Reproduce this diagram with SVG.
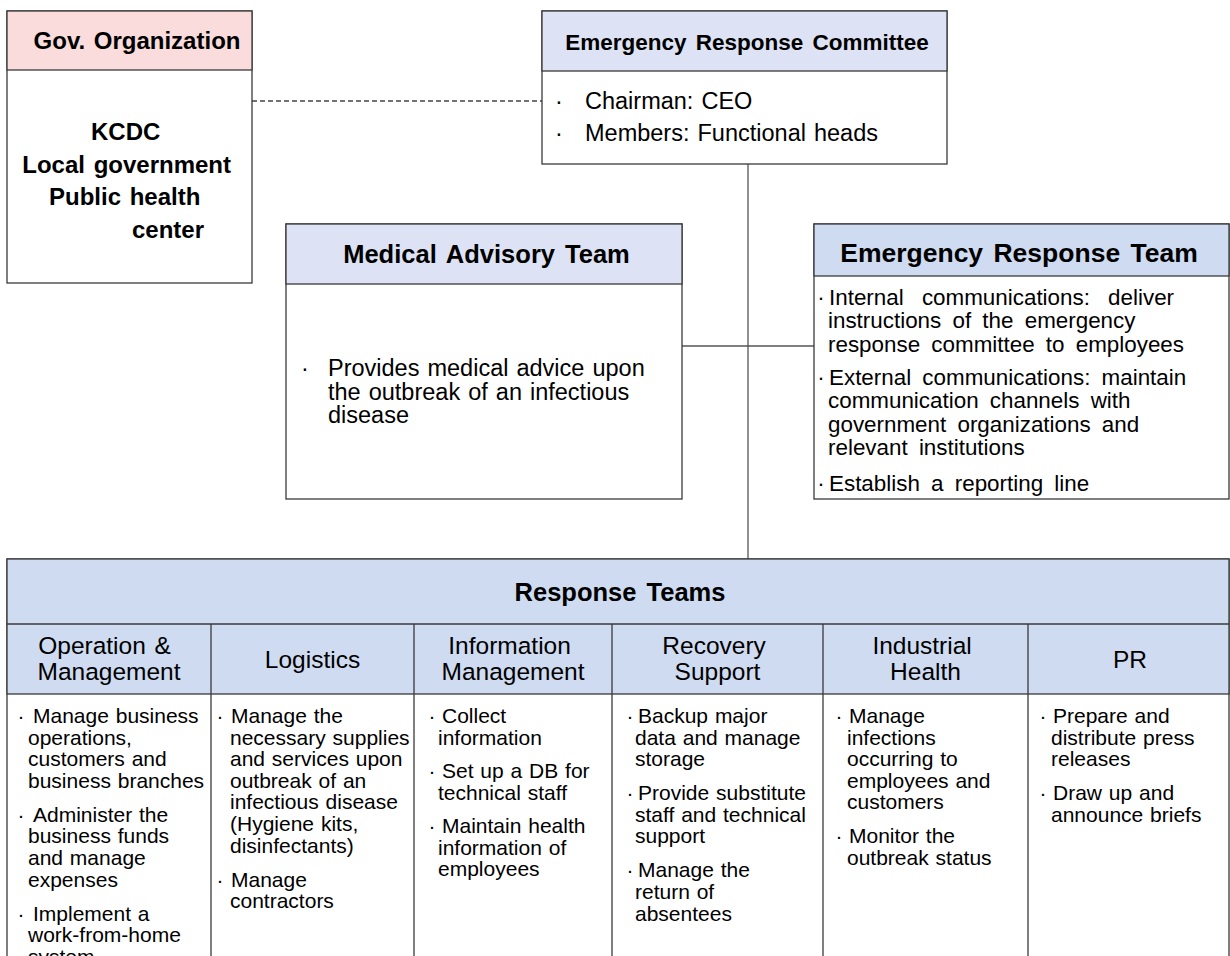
<svg xmlns="http://www.w3.org/2000/svg" width="1230" height="956" viewBox="0 0 1230 956">
  <style>
    text { font-family: "Liberation Sans", Arial, sans-serif; fill: #000; }
    .box { fill: #fff; stroke: #3a3a3a; stroke-width: 1.3; }
    .hdr-pink { fill: #fadcdc; stroke: #3a3a3a; stroke-width: 1.3; }
    .hdr-lav { fill: #dde3f4; stroke: #3a3a3a; stroke-width: 1.3; }
    .hdr-blue { fill: #cfdbf0; stroke: #3a3a3a; stroke-width: 1.3; }
    .grid { stroke: #3a3a3a; stroke-width: 1.3; fill: none; }
    .title { font-weight: bold; text-anchor: middle; }
    .body { font-size: 23.5px; word-spacing: 1.5px; }
    .ert { font-size: 22.4px; word-spacing: 5px; }
    .cell { font-size: 21px; word-spacing: 1px; }
    .colhead { font-size: 24.5px; text-anchor: middle; }
    .dot { text-anchor: middle; }
    .link { stroke: #555; stroke-width: 1.3; fill: none; }
    .dash { stroke-dasharray: 5 3; stroke: #444; }
  </style>

  <!-- connectors -->
  <g id="connectors">
    <line class="link dash" x1="252" y1="101" x2="542" y2="101"/>
    <line class="link" x1="748" y1="164" x2="748" y2="559"/>
    <line class="link" x1="682" y1="346" x2="814" y2="346"/>
  </g>

  <!-- government organization -->
  <g id="gov-organization">
    <rect class="box" x="7" y="11" width="245" height="272"/>
    <rect class="hdr-pink" x="7" y="11" width="245" height="59"/>
    <text class="title" x="137" y="49" font-size="24" word-spacing="2">Gov. Organization</text>
    <text class="title" font-size="24" word-spacing="2">
      <tspan x="130" y="140">KCDC</tspan>
      <tspan x="131" y="172.5">Local government</tspan>
      <tspan x="129" y="205">Public health</tspan>
      <tspan x="168" y="237.5">center</tspan>
    </text>
  </g>

  <!-- emergency response committee -->
  <g id="emergency-response-committee">
    <rect class="box" x="542" y="11" width="405" height="153"/>
    <rect class="hdr-lav" x="542" y="11" width="405" height="60"/>
    <text class="title" x="747" y="50" font-size="22.5" word-spacing="3">Emergency Response Committee</text>
    <text class="body dot" x="559" y="109">·</text>
    <text class="body dot" x="559" y="141">·</text>
    <text class="body">
      <tspan x="585" y="109">Chairman: CEO</tspan>
      <tspan x="585" y="141">Members: Functional heads</tspan>
    </text>
  </g>

  <!-- medical advisory team -->
  <g id="medical-advisory-team">
    <rect class="box" x="286" y="224" width="396" height="275"/>
    <rect class="hdr-lav" x="286" y="224" width="396" height="60"/>
    <text class="title" x="486.5" y="263" font-size="25.5" word-spacing="3">Medical Advisory Team</text>
    <text class="body dot" x="305" y="376">·</text>
    <text class="body" word-spacing="9">
      <tspan x="328" y="376">Provides medical advice upon</tspan>
      <tspan x="328" y="399.5">the outbreak of an infectious</tspan>
      <tspan x="328" y="423">disease</tspan>
    </text>
  </g>

  <!-- emergency response team -->
  <g id="emergency-response-team">
    <rect class="box" x="814" y="224" width="415" height="275"/>
    <rect class="hdr-blue" x="814" y="224" width="415" height="52"/>
    <text class="title" x="1019" y="262" font-size="26.5" word-spacing="3">Emergency Response Team</text>
    <text class="ert dot" x="821" y="305">·</text>
    <text class="ert dot" x="821" y="385">·</text>
    <text class="ert dot" x="821" y="491">·</text>
    <text class="ert">
      <tspan x="829" y="305" word-spacing="12">Internal communications: deliver</tspan>
      <tspan x="828" y="328.3">instructions of the emergency</tspan>
      <tspan x="828" y="351.6">response committee to employees</tspan>
      <tspan x="829" y="385">External communications: maintain</tspan>
      <tspan x="828" y="408.3">communication channels with</tspan>
      <tspan x="828" y="431.6">government organizations and</tspan>
      <tspan x="828" y="455">relevant institutions</tspan>
      <tspan x="829" y="491">Establish a reporting line</tspan>
    </text>
  </g>

  <!-- response teams table -->
  <g id="response-teams">
    <rect class="box" x="7" y="559" width="1222" height="410"/>
    <rect class="hdr-blue" x="7" y="559" width="1222" height="135"/>
    <line class="grid" x1="7" y1="624" x2="1229" y2="624"/>
    <line class="grid" x1="211" y1="624" x2="211" y2="969"/>
    <line class="grid" x1="414" y1="624" x2="414" y2="969"/>
    <line class="grid" x1="612" y1="624" x2="612" y2="969"/>
    <line class="grid" x1="823" y1="624" x2="823" y2="969"/>
    <line class="grid" x1="1028" y1="624" x2="1028" y2="969"/>
    <text class="title" x="620" y="601" font-size="25.5" word-spacing="3">Response Teams</text>

    <text class="colhead" word-spacing="2">
      <tspan x="109" y="654">Operation &amp;</tspan>
      <tspan x="109" y="680">Management</tspan>
    </text>
    <text class="colhead" x="312.5" y="668">Logistics</text>
    <text class="colhead">
      <tspan x="513" y="654">Information</tspan>
      <tspan x="513" y="680">Management</tspan>
    </text>
    <text class="colhead">
      <tspan x="717.5" y="654">Recovery</tspan>
      <tspan x="717.5" y="680">Support</tspan>
    </text>
    <text class="colhead">
      <tspan x="925.5" y="654">Industrial</tspan>
      <tspan x="925.5" y="680">Health</tspan>
    </text>
    <text class="colhead" x="1130" y="668">PR</text>

    <!-- operation & management -->
    <g id="col-operation">
      <text class="cell dot" x="21"><tspan y="723">·</tspan></text>
      <text class="cell dot" x="21"><tspan y="821.8">·</tspan></text>
      <text class="cell dot" x="21"><tspan y="920.6">·</tspan></text>
      <text class="cell">
        <tspan x="33" y="723">Manage business</tspan>
        <tspan x="28" y="744.6">operations,</tspan>
        <tspan x="28" y="766.2">customers and</tspan>
        <tspan x="28" y="787.8">business branches</tspan>
        <tspan x="33" y="821.8">Administer the</tspan>
        <tspan x="28" y="843.4">business funds</tspan>
        <tspan x="28" y="865">and manage</tspan>
        <tspan x="28" y="886.6">expenses</tspan>
        <tspan x="33" y="920.6">Implement a</tspan>
        <tspan x="28" y="942.2">work-from-home</tspan>
        <tspan x="28" y="963.8">system</tspan>
      </text>
    </g>

    <!-- logistics -->
    <g id="col-logistics">
      <text class="cell dot" x="220"><tspan y="723">·</tspan></text>
      <text class="cell dot" x="220"><tspan y="886.6">·</tspan></text>
      <text class="cell">
        <tspan x="231" y="723">Manage the</tspan>
        <tspan x="230" y="744.6">necessary supplies</tspan>
        <tspan x="230" y="766.2">and services upon</tspan>
        <tspan x="230" y="787.8">outbreak of an</tspan>
        <tspan x="230" y="809.4">infectious disease</tspan>
        <tspan x="230" y="831">(Hygiene kits,</tspan>
        <tspan x="230" y="852.6">disinfectants)</tspan>
        <tspan x="231" y="886.6">Manage</tspan>
        <tspan x="230" y="908.2">contractors</tspan>
      </text>
    </g>

    <!-- information management -->
    <g id="col-information">
      <text class="cell dot" x="432"><tspan y="723">·</tspan></text>
      <text class="cell dot" x="432"><tspan y="778">·</tspan></text>
      <text class="cell dot" x="432"><tspan y="833">·</tspan></text>
      <text class="cell">
        <tspan x="442" y="723">Collect</tspan>
        <tspan x="438" y="744.6">information</tspan>
        <tspan x="442" y="778">Set up a DB for</tspan>
        <tspan x="438" y="799.6">technical staff</tspan>
        <tspan x="442" y="833">Maintain health</tspan>
        <tspan x="438" y="854.6">information of</tspan>
        <tspan x="438" y="876.2">employees</tspan>
      </text>
    </g>

    <!-- recovery support -->
    <g id="col-recovery">
      <text class="cell dot" x="630"><tspan y="723">·</tspan></text>
      <text class="cell dot" x="630"><tspan y="800.2">·</tspan></text>
      <text class="cell dot" x="630"><tspan y="877.4">·</tspan></text>
      <text class="cell">
        <tspan x="638" y="723">Backup major</tspan>
        <tspan x="635" y="744.6">data and manage</tspan>
        <tspan x="635" y="766.2">storage</tspan>
        <tspan x="638" y="800.2">Provide substitute</tspan>
        <tspan x="635" y="821.8">staff and technical</tspan>
        <tspan x="635" y="843.4">support</tspan>
        <tspan x="638" y="877.4">Manage the</tspan>
        <tspan x="635" y="899">return of</tspan>
        <tspan x="635" y="920.6">absentees</tspan>
      </text>
    </g>

    <!-- industrial health -->
    <g id="col-industrial">
      <text class="cell dot" x="839"><tspan y="723">·</tspan></text>
      <text class="cell dot" x="839"><tspan y="843.4">·</tspan></text>
      <text class="cell">
        <tspan x="849" y="723">Manage</tspan>
        <tspan x="847" y="744.6">infections</tspan>
        <tspan x="847" y="766.2">occurring to</tspan>
        <tspan x="847" y="787.8">employees and</tspan>
        <tspan x="847" y="809.4">customers</tspan>
        <tspan x="849" y="843.4">Monitor the</tspan>
        <tspan x="847" y="865">outbreak status</tspan>
      </text>
    </g>

    <!-- public relations -->
    <g id="col-pr">
      <text class="cell dot" x="1043"><tspan y="723">·</tspan></text>
      <text class="cell dot" x="1043"><tspan y="800.2">·</tspan></text>
      <text class="cell">
        <tspan x="1053" y="723">Prepare and</tspan>
        <tspan x="1051" y="744.6">distribute press</tspan>
        <tspan x="1051" y="766.2">releases</tspan>
        <tspan x="1053" y="800.2">Draw up and</tspan>
        <tspan x="1051" y="821.8">announce briefs</tspan>
      </text>
    </g>
  </g>
</svg>
